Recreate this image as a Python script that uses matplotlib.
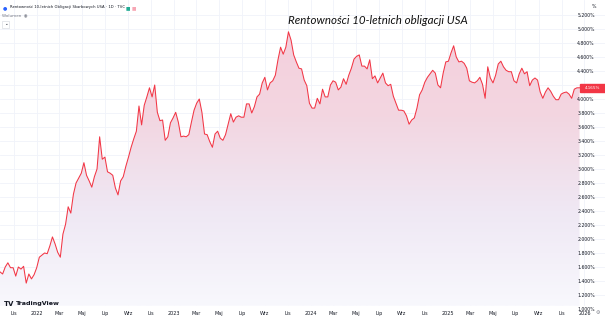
import numpy as np
import pandas as pd
import matplotlib
matplotlib.use('Agg')
import matplotlib.pyplot as plt
import matplotlib.dates as mdates
from matplotlib.colors import LinearSegmentedColormap
from matplotlib.patches import PathPatch, Rectangle

# weekly closes of the US 10Y yield (%)
start_date = '2021-09-24'
yields = [
    1.53, 1.50, 1.60, 1.66, 1.59, 1.59, 1.47, 1.60, 1.57, 1.61,
    1.37, 1.50, 1.43, 1.49, 1.59, 1.74, 1.77, 1.80, 1.79, 1.90,
    2.03, 1.93, 1.81, 1.74, 2.07, 2.21, 2.46, 2.37, 2.64, 2.80,
    2.87, 2.94, 3.09, 2.91, 2.83, 2.74, 2.89, 3.00, 3.46, 3.14,
    3.17, 2.96, 2.94, 2.91, 2.73, 2.63, 2.83, 2.89, 3.04, 3.17,
    3.31, 3.43, 3.54, 3.90, 3.63, 3.91, 4.03, 4.16, 4.03, 4.20,
    3.81, 3.69, 3.70, 3.41, 3.46, 3.66, 3.73, 3.81, 3.67, 3.46,
    3.47, 3.46, 3.49, 3.67, 3.84, 3.94, 4.00, 3.81, 3.50, 3.49,
    3.39, 3.31, 3.50, 3.54, 3.44, 3.41, 3.49, 3.64, 3.79, 3.67,
    3.74, 3.76, 3.74, 3.74, 3.93, 3.93, 3.80, 3.89, 4.03, 4.07,
    4.23, 4.31, 4.13, 4.23, 4.26, 4.34, 4.56, 4.74, 4.64, 4.74,
    4.96, 4.84, 4.63, 4.53, 4.44, 4.43, 4.27, 4.19, 3.94, 3.87,
    3.87, 4.01, 3.93, 4.14, 4.03, 4.03, 4.20, 4.26, 4.24, 4.13,
    4.17, 4.29, 4.21, 4.34, 4.44, 4.57, 4.61, 4.63, 4.47, 4.47,
    4.43, 4.56, 4.29, 4.33, 4.23, 4.30, 4.37, 4.23, 4.19, 4.21,
    4.04, 3.94, 3.84, 3.84, 3.83, 3.76, 3.64, 3.70, 3.73, 3.87,
    4.06, 4.13, 4.24, 4.31, 4.36, 4.41, 4.37, 4.20, 4.16, 4.37,
    4.53, 4.54, 4.66, 4.76, 4.60, 4.53, 4.54, 4.51, 4.44, 4.26,
    4.24, 4.23, 4.26, 4.31, 4.21, 4.01, 4.46, 4.30, 4.23, 4.34,
    4.50, 4.54, 4.46, 4.41, 4.39, 4.39, 4.26, 4.23, 4.36, 4.44,
    4.36, 4.39, 4.19, 4.27, 4.30, 4.27, 4.10, 4.01, 4.10, 4.16,
    4.11, 4.04, 3.99, 3.99, 4.07, 4.09, 4.10, 4.07, 4.01, 4.14,
    4.16, 4.16,
]
last_label = '4.165%'

y_ticks = [1.0 + 0.2 * i for i in range(22)]
x_tick_dates = ['2021-11-01', '2022-01-01', '2022-03-01', '2022-05-01',
                '2022-07-01', '2022-09-01', '2022-11-01', '2023-01-01',
                '2023-03-01', '2023-05-01', '2023-07-01', '2023-09-01',
                '2023-11-01', '2024-01-01', '2024-03-01', '2024-05-01',
                '2024-07-01', '2024-09-01', '2024-11-01', '2025-01-01',
                '2025-03-01', '2025-05-01', '2025-07-01', '2025-09-01',
                '2025-11-01', '2026-01-01']
x_tick_labels = ['Lis', '2022', 'Mar', 'Maj', 'Lip', 'Wrz', 'Lis', '2023',
                 'Mar', 'Maj', 'Lip', 'Wrz', 'Lis', '2024', 'Mar', 'Maj',
                 'Lip', 'Wrz', 'Lis', '2025', 'Mar', 'Maj', 'Lip', 'Wrz',
                 'Lis', '2026']

title = 'Rentowności 10-letnich obligacji USA'
header = 'Rentowność 10-letnich Obligacji Skarbowych USA · 1D · TVC'

LINE_RED = '#f23645'
GRID = '#f0f3fa'
TXT = '#131722'

dates = pd.date_range(start_date, periods=len(yields), freq='7D')
x_min = pd.Timestamp(start_date)
x_max = x_min + pd.Timedelta(days=1615)
y_min, y_max = 0.8714, 5.4143
y_floor = 1.043  # top of the time-axis strip

fig = plt.figure(figsize=(6.05, 3.18), dpi=100)
ax = fig.add_axes([0, 0, 1, 1])
ax.set_facecolor('white')
ax.set_axisbelow(False)

# gradient area under the line
fill = ax.fill_between(dates, yields, y_floor, color='none', lw=0)
cmap = LinearSegmentedColormap.from_list(
    'tv', ['#f8f8fd', '#efe8f4', '#f3d6e1', '#f4cfdc'])
grad = np.linspace(0, 1, 256).reshape(-1, 1)
img = ax.imshow(grad, cmap=cmap, aspect='auto', origin='lower', zorder=1,
                extent=[mdates.date2num(x_min), mdates.date2num(x_max),
                        y_floor, 5.1])
clip = PathPatch(fill.get_paths()[0], transform=ax.transData,
                 facecolor='none', edgecolor='none')
ax.add_patch(clip)
img.set_clip_path(clip)

ax.plot(dates, yields, color=LINE_RED, lw=0.75, zorder=3)

ax.set_xlim(x_min, x_max)
ax.set_ylim(y_min, y_max)

# grid
for v in y_ticks:
    ax.axhline(v, color=GRID, lw=0.6, zorder=0)
for d in x_tick_dates:
    ax.axvline(pd.Timestamp(d), color=GRID, lw=0.6, zorder=0)

# time axis strip
ax.axhspan(y_min, y_floor, color='white', zorder=1.5)

ax.set_xticks([pd.Timestamp(d) for d in x_tick_dates])
ax.set_xticklabels(x_tick_labels)
ax.tick_params(axis='x', direction='in', length=0, pad=-5.0,
               labelsize=3.5, labelcolor=TXT)
ax.yaxis.tick_right()
ax.set_yticks(y_ticks)
# the price tag hides the scale label it sits on
ax.set_yticklabels(['' if abs(v - yields[-1]) < 0.1 else f'{v:.3f}%'
                    for v in y_ticks])
ax.tick_params(axis='y', direction='in', length=0, pad=-20,
               labelsize=3.3, labelcolor=TXT)
for s in ax.spines.values():
    s.set_visible(False)

# last price tag
ax.add_patch(Rectangle((dates[-1], yields[-1] - 0.055), pd.Timedelta(days=68),
                       0.11, color=LINE_RED, zorder=5, clip_on=False))
ax.text(dates[-1] + pd.Timedelta(days=34), yields[-1], last_label,
        color='white', fontsize=3.0, ha='center', va='center', zorder=6)

# headers and decorations
fig.text(0.016, 0.984, header, fontsize=2.7, color=TXT, va='top')
fig.text(0.004, 0.984, '●', fontsize=3.6, color='#2962ff', va='top')
fig.text(0.207, 0.983, '■', fontsize=3.4, color='#22ab94', va='top')
fig.text(0.217, 0.983, '■', fontsize=3.4, color='#f7a6b4', va='top')
fig.text(0.004, 0.958, 'Wolumen  ◉', fontsize=3.0, color='#787b86', va='top')
fig.text(0.006, 0.930, '⌄', fontsize=3.2, color=TXT, va='top',
         bbox=dict(boxstyle='square,pad=0.3', fc='white', ec='#d1d4dc', lw=0.4))
fig.text(0.978, 0.988, '%', fontsize=3.4, color=TXT, va='top')
fig.text(0.988, 0.008, '⚙', fontsize=3.6, color='#787b86', ha='center',
         va='bottom')
fig.text(0.625, 0.935, title, fontsize=8.3, style='italic', color='#111111',
         ha='center', va='center', family='Lato')
fig.text(0.006, 0.045, 'TV', fontsize=5, weight='bold', color=TXT,
         va='center')
fig.text(0.027, 0.045, 'TradingView', fontsize=4.6, weight='bold', color=TXT,
         va='center')

fig.savefig('out.png', dpi=100)
